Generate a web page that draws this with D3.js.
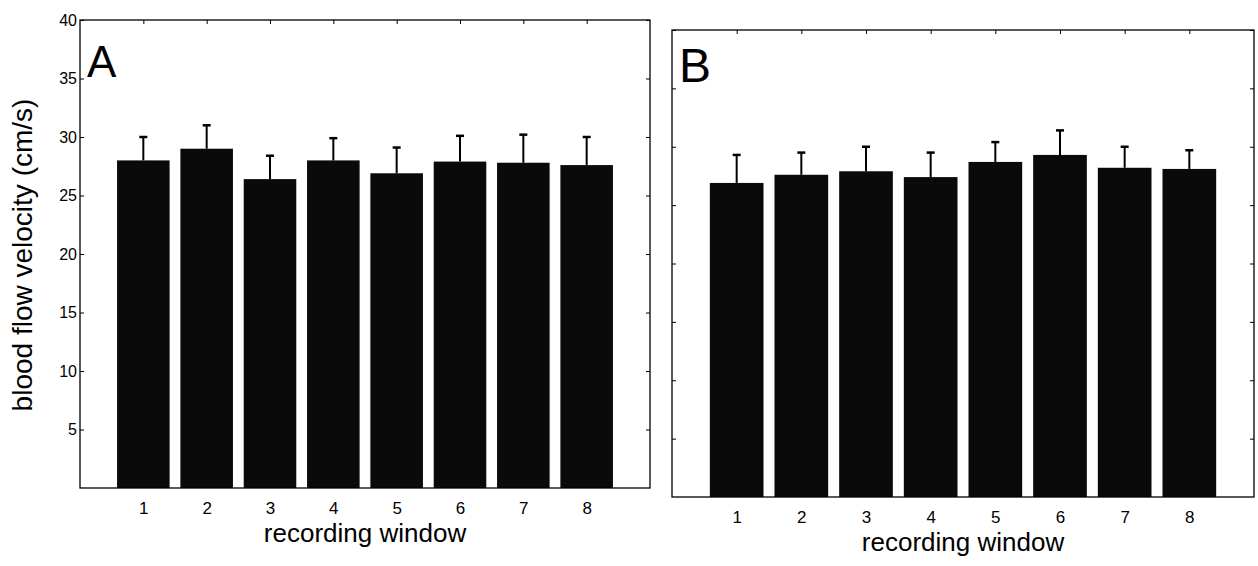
<!DOCTYPE html>
<html><head><meta charset="utf-8">
<script src="https://cdn.jsdelivr.net/npm/d3@7/dist/d3.min.js"></script>
<style>body{margin:0;background:#fff}svg{display:block}text{font-family:"Liberation Sans",Arial,sans-serif;fill:#000}</style>
</head><body>
<svg id="c" width="1258" height="566"></svg>
<script>
const categories = [1,2,3,4,5,6,7,8];
const meanA = [28.0, 29.0, 26.4, 28.0, 26.9, 27.9, 27.8, 27.6];
const errA  = [2.0, 2.0, 2.0, 1.9, 2.2, 2.2, 2.4, 2.4];
const meanB = [26.9, 27.6, 27.9, 27.4, 28.7, 29.3, 28.2, 28.1];
const errB  = [2.4, 1.9, 2.1, 2.1, 1.7, 2.1, 1.8, 1.6];
const yTicks = [5,10,15,20,25,30,35,40];
const yTickLabels = ["5","10","15","20","25","30","35","40"];
const panelLabels = ["A","B"];
const xTitle = "recording window";
const yTitle = "blood flow velocity (cm/s)";

const svg = d3.select("#c");

function panel(cfg){
  const {x0,x1,y0,y1,means,errs,label,showY,letterDy,letterSize} = cfg;
  const x = d3.scaleLinear().domain([0,9]).range([x0,x1]);
  const y = d3.scaleLinear().domain([0,40]).range([y1,y0]);
  const g = svg.append("g");
  const bw = (x(1)-x(0))*0.83;
  g.selectAll("rect.bar").data(categories).join("rect")
    .attr("x", d=>x(d)-bw/2).attr("width", bw)
    .attr("y", (d,i)=>y(means[i])).attr("height",(d,i)=>y(0)-y(means[i]))
    .attr("fill","#0a0a0a");
  g.selectAll("line.err").data(categories).join("line")
    .attr("x1",d=>x(d)).attr("x2",d=>x(d))
    .attr("y1",(d,i)=>y(means[i])).attr("y2",(d,i)=>y(means[i]+errs[i]))
    .attr("stroke","#000").attr("stroke-width",2);
  g.selectAll("line.cap").data(categories).join("line")
    .attr("x1",d=>x(d)-4).attr("x2",d=>x(d)+4)
    .attr("y1",(d,i)=>y(means[i]+errs[i])).attr("y2",(d,i)=>y(means[i]+errs[i]))
    .attr("stroke","#000").attr("stroke-width",2.5);
  const bottom = d3.axisBottom(x).tickValues(categories).tickFormat(d3.format("d")).tickSize(0).tickPadding(14);
  const ba = g.append("g").attr("transform",`translate(0,${y1})`).call(bottom);
  ba.select(".domain").remove();
  ba.attr("font-size",17).attr("font-family","Liberation Sans, Arial, sans-serif");
  const top = d3.axisTop(x).tickValues(categories).tickFormat("").tickSizeInner(-4).tickSizeOuter(0);
  const ta = g.append("g").attr("transform",`translate(0,${y0})`).call(top);
  ta.select(".domain").remove();
  const left = d3.axisLeft(y).tickValues(yTicks).tickSizeInner(-4).tickSizeOuter(0).tickPadding(6)
    .tickFormat((d,i)=> showY ? yTickLabels[i] : "");
  const la = g.append("g").attr("transform",`translate(${x0},0)`).call(left);
  la.select(".domain").remove();
  la.attr("font-size",16).attr("font-family","Liberation Sans, Arial, sans-serif");
  la.selectAll("text").attr("x",-3);
  const right = d3.axisRight(y).tickValues(yTicks).tickFormat("").tickSizeInner(-4).tickSizeOuter(0);
  const ra = g.append("g").attr("transform",`translate(${x1},0)`).call(right);
  ra.select(".domain").remove();
  g.append("rect").attr("x",x0).attr("y",y0).attr("width",x1-x0).attr("height",y1-y0)
    .attr("fill","none").attr("stroke","#000").attr("stroke-width",1.3);
  g.append("text").attr("x",x0+7).attr("y",y0+letterDy).attr("font-size",letterSize)
    .text(label);
  g.append("text").attr("x",(x0+x1)/2).attr("y",y1+54).attr("text-anchor","middle")
    .attr("font-size",26).text(xTitle);
}

panel({x0:80,x1:650,y0:20,y1:488,means:meanA,errs:errA,label:panelLabels[0],showY:true,letterDy:57,letterSize:44});
panel({x0:672,x1:1254,y0:30,y1:497,means:meanB,errs:errB,label:panelLabels[1],showY:false,letterDy:52,letterSize:48});

svg.append("text").attr("transform","translate(32,255) rotate(-90)")
  .attr("text-anchor","middle").attr("font-size",28).text(yTitle);
</script>
</body></html>
